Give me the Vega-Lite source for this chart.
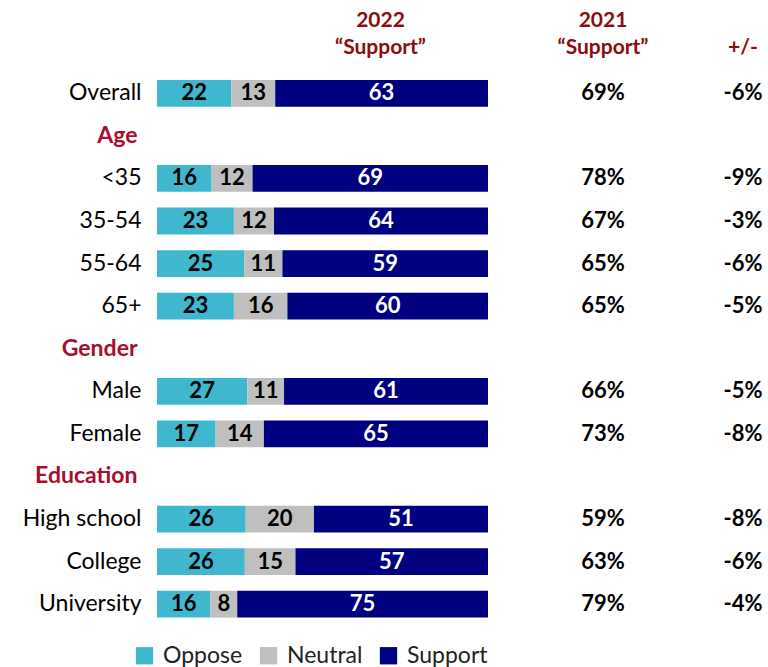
{
  "$schema": "https://vega.github.io/schema/vega-lite/v6.json",
  "padding": {"left": 0, "top": 10, "right": 0, "bottom": 0},
  "config": {
    "view": {"stroke": null},
    "font": "Lato",
    "concat": {"spacing": 0},
    "locale": {"number": {"decimal": ".", "thousands": ",", "grouping": [3], "currency": ["$", ""], "minus": "-"}},
    "title": {"font": "Lato", "fontSize": 21, "fontWeight": "bold", "color": "#8B0D0D", "lineHeight": 27, "offset": 14}
  },
  "datasets": {
    "bars": [
      {"group": "Overall", "response": "Oppose", "k": 1, "value": 22},
      {"group": "Overall", "response": "Neutral", "k": 2, "value": 13},
      {"group": "Overall", "response": "Support", "k": 3, "value": 63},
      {"group": "<35", "response": "Oppose", "k": 1, "value": 16},
      {"group": "<35", "response": "Neutral", "k": 2, "value": 12},
      {"group": "<35", "response": "Support", "k": 3, "value": 69},
      {"group": "35-54", "response": "Oppose", "k": 1, "value": 23},
      {"group": "35-54", "response": "Neutral", "k": 2, "value": 12},
      {"group": "35-54", "response": "Support", "k": 3, "value": 64},
      {"group": "55-64", "response": "Oppose", "k": 1, "value": 25},
      {"group": "55-64", "response": "Neutral", "k": 2, "value": 11},
      {"group": "55-64", "response": "Support", "k": 3, "value": 59},
      {"group": "65+", "response": "Oppose", "k": 1, "value": 23},
      {"group": "65+", "response": "Neutral", "k": 2, "value": 16},
      {"group": "65+", "response": "Support", "k": 3, "value": 60},
      {"group": "Male", "response": "Oppose", "k": 1, "value": 27},
      {"group": "Male", "response": "Neutral", "k": 2, "value": 11},
      {"group": "Male", "response": "Support", "k": 3, "value": 61},
      {"group": "Female", "response": "Oppose", "k": 1, "value": 17},
      {"group": "Female", "response": "Neutral", "k": 2, "value": 14},
      {"group": "Female", "response": "Support", "k": 3, "value": 65},
      {"group": "High school", "response": "Oppose", "k": 1, "value": 26},
      {"group": "High school", "response": "Neutral", "k": 2, "value": 20},
      {"group": "High school", "response": "Support", "k": 3, "value": 51},
      {"group": "College", "response": "Oppose", "k": 1, "value": 26},
      {"group": "College", "response": "Neutral", "k": 2, "value": 15},
      {"group": "College", "response": "Support", "k": 3, "value": 57},
      {"group": "University", "response": "Oppose", "k": 1, "value": 16},
      {"group": "University", "response": "Neutral", "k": 2, "value": 8},
      {"group": "University", "response": "Support", "k": 3, "value": 75}
    ],
    "summary": [
      {"group": "Overall", "prev": 0.69, "diff": -0.06},
      {"group": "<35", "prev": 0.78, "diff": -0.09},
      {"group": "35-54", "prev": 0.67, "diff": -0.03},
      {"group": "55-64", "prev": 0.65, "diff": -0.06},
      {"group": "65+", "prev": 0.65, "diff": -0.05},
      {"group": "Male", "prev": 0.66, "diff": -0.05},
      {"group": "Female", "prev": 0.73, "diff": -0.08},
      {"group": "High school", "prev": 0.59, "diff": -0.08},
      {"group": "College", "prev": 0.63, "diff": -0.06},
      {"group": "University", "prev": 0.79, "diff": -0.04}
    ]
  },
  "hconcat": [
    {
      "width": 331,
      "height": 553.5,
      "data": {"name": "bars"},
      "title": {"text": ["2022", "“Support”"], "dx": 58},
      "encoding": {
        "y": {
          "field": "group",
          "type": "nominal",
          "title": null,
          "scale": {
            "domain": ["Overall", "Age", "<35", "35-54", "55-64", "65+", "Gender", "Male", "Female", "Education", "High school", "College", "University"],
            "paddingInner": 0.37,
            "paddingOuter": 0.185
          },
          "axis": {
            "domain": false,
            "ticks": false,
            "labelPadding": {"condition": {"test": "indexof(['Age','Gender','Education'], datum.value) >= 0", "value": 20}, "value": 16},
            "minExtent": 157,
            "maxExtent": 157,
            "labelFont": "Lato",
            "labelFontSize": 23,
            "labelColor": {"condition": {"test": "indexof(['Age','Gender','Education'], datum.value) >= 0", "value": "#A50F2D"}, "value": "black"},
            "labelFontWeight": {"condition": {"test": "indexof(['Age','Gender','Education'], datum.value) >= 0", "value": "bold"}, "value": "normal"}
          }
        }
      },
      "layer": [
        {
          "mark": {"type": "bar"},
          "encoding": {
            "x": {"field": "value", "type": "quantitative", "stack": "normalize", "axis": null, "scale": {"domain": [0, 1]}},
            "color": {
              "field": "response",
              "type": "nominal",
              "scale": {"domain": ["Oppose", "Neutral", "Support"], "range": ["#3FB8CF", "#BFBFBF", "#000080"]},
              "legend": {
                "title": null,
                "orient": "none",
                "legendX": -24,
                "legendY": 572,
                "direction": "horizontal",
                "symbolType": "square",
                "symbolSize": 300,
                "symbolStrokeWidth": 0,
                "labelFont": "Lato",
                "labelFontSize": 23,
                "labelColor": "#222222",
                "labelOffset": 7,
                "columnPadding": 14
              }
            },
            "order": {"field": "k", "type": "quantitative"}
          }
        },
        {
          "mark": {"type": "text", "fontSize": 22, "fontWeight": "bold", "font": "Lato"},
          "encoding": {
            "x": {"field": "value", "type": "quantitative", "stack": "normalize", "bandPosition": 0.5, "scale": {"domain": [0, 1]}},
            "detail": {"field": "response", "type": "nominal"},
            "order": {"field": "k", "type": "quantitative"},
            "text": {"field": "value", "type": "quantitative"},
            "color": {"condition": {"test": "datum.response === 'Support'", "value": "white"}, "value": "black"}
          }
        }
      ]
    },
    {
      "width": 230,
      "height": 553.5,
      "data": {"name": "summary"},
      "title": {"text": ["2021", "“Support”"]},
      "mark": {"type": "text", "fontSize": 22, "fontWeight": "bold", "font": "Lato", "color": "black"},
      "encoding": {
        "y": {
          "field": "group",
          "type": "nominal",
          "axis": null,
          "scale": {
            "domain": ["Overall", "Age", "<35", "35-54", "55-64", "65+", "Gender", "Male", "Female", "Education", "High school", "College", "University"],
            "paddingInner": 0.37,
            "paddingOuter": 0.185
          }
        },
        "text": {"field": "prev", "type": "quantitative", "format": ".0%"}
      }
    },
    {
      "width": 50,
      "height": 553.5,
      "data": {"name": "summary"},
      "title": {"text": "+/-"},
      "mark": {"type": "text", "fontSize": 22, "fontWeight": "bold", "font": "Lato", "color": "black"},
      "encoding": {
        "y": {
          "field": "group",
          "type": "nominal",
          "axis": null,
          "scale": {
            "domain": ["Overall", "Age", "<35", "35-54", "55-64", "65+", "Gender", "Male", "Female", "Education", "High school", "College", "University"],
            "paddingInner": 0.37,
            "paddingOuter": 0.185
          }
        },
        "text": {"field": "diff", "type": "quantitative", "format": ".0%"}
      }
    }
  ]
}
